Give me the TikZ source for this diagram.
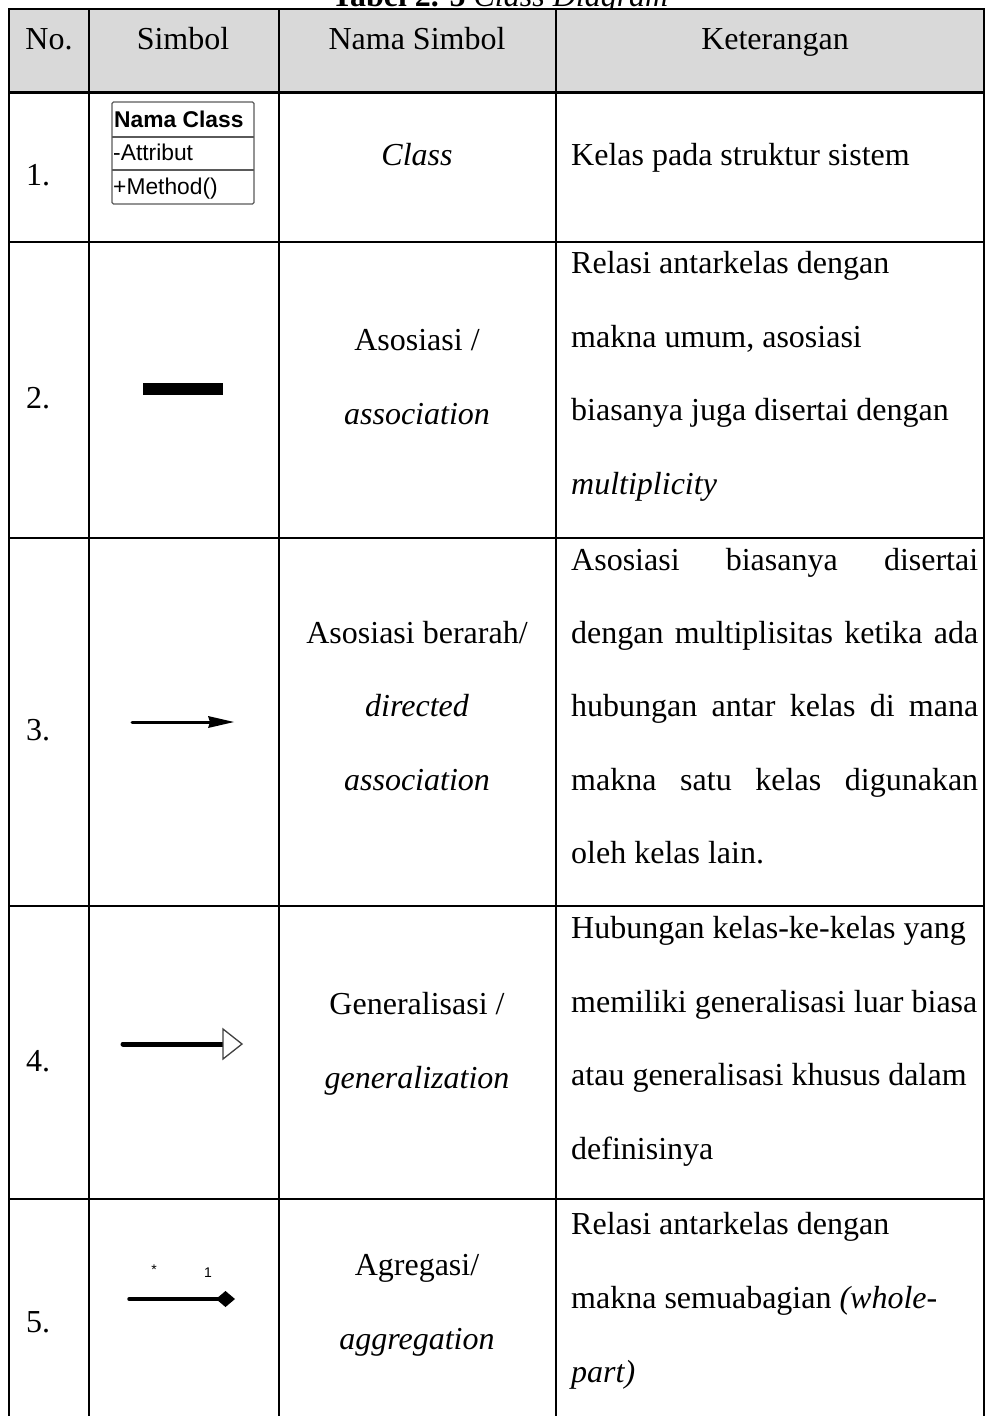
\documentclass[tikz,border=0pt]{standalone}
\usepackage{fontspec}
\setmainfont{Liberation Serif}
\newfontfamily\umlfont{Liberation Sans}
\usetikzlibrary{arrows.meta}
\definecolor{headgray}{HTML}{D9D9D9}
\definecolor{boxgray}{HTML}{5A5A5A}
\begin{document}
\begin{tikzpicture}[x=1pt,y=-1pt,
  rule/.style={line width=1.6pt, black},
  thickrule/.style={line width=3pt, black},
  txt/.style={inner sep=0pt, anchor=base west, font=\fontsize{32}{38}\selectfont},
  ctxt/.style={inner sep=0pt, anchor=base, font=\fontsize{32}{38}\selectfont},
  umltxt/.style={inner sep=0pt, anchor=base west, font=\umlfont\fontsize{22.8}{26}\selectfont},
  multtxt/.style={inner sep=0pt, anchor=center, font=\umlfont\fontsize{14}{16}\selectfont},
  jline/.style={txt}]
\clip (0,0) rectangle (986,1416);

% caption (runs off the top edge)
\node[ctxt] (caption) at (500,6) {\textbf{Tabel 2. 5} \textit{Class Diagram}};

% header band
\fill[headgray] (9,9) rectangle (984,92);

% table rules
\draw[rule] (9,1416) -- (9,9) -- (984,9) -- (984,1416);
\draw[rule] (89,9) -- (89,1416);
\draw[rule] (279,9) -- (279,1416);
\draw[rule] (556,9) -- (556,1416);
\draw[thickrule] (9,92) -- (984,92);
\draw[rule] (9,242) -- (984,242);
\draw[rule] (9,538) -- (984,538);
\draw[rule] (9,906) -- (984,906);
\draw[rule] (9,1199) -- (984,1199);

% header
\node[ctxt] (hno) at (49,49) {No.};
\node[ctxt] (hsym) at (183,49) {Simbol};
\node[ctxt] (hname) at (417,49) {Nama Simbol};
\node[ctxt] (hdesc) at (775,49) {Keterangan};

% row numbers
\node[txt] (n1) at (26,185) {1.};
\node[txt] (n2) at (26,408) {2.};
\node[txt] (n3) at (26,740) {3.};
\node[txt] (n4) at (26,1071) {4.};
\node[txt] (n5) at (26,1332) {5.};

% row 1: class box
\draw[boxgray, line width=1.3pt, rounded corners=1.5pt, fill=white] (112,102) rectangle (254,204);
\draw[boxgray, line width=1.3pt] (112,137) -- (254,137);
\draw[boxgray, line width=1.3pt] (112,170) -- (254,170);
\node[umltxt] (clsname) at (114,127) {\bfseries Nama Class};
\node[umltxt] (clsattr) at (113,160) {-Attribut};
\node[umltxt] (clsop) at (113,194) {+Method()};
\node[ctxt] (nm1) at (417,165) {\itshape Class};
\node[txt] (d1) at (571,165) {Kelas pada struktur sistem};

% row 2: association
\coordinate (a2s) at (143,389);
\coordinate (a2e) at (223,389);
\draw[line width=12pt] (a2s) -- (a2e);
\node[ctxt] (nm2a) at (417,350) {Asosiasi /};
\node[ctxt] (nm2b) at (417,424) {\itshape association};
\node[txt] (d2a) at (571,273) {Relasi antarkelas dengan};
\node[txt] (d2b) at (571,347) {makna umum, asosiasi};
\node[txt] (d2c) at (571,420) {biasanya juga disertai dengan};
\node[txt] (d2d) at (571,494) {\itshape multiplicity};

% row 3: directed association
\coordinate (a3s) at (132,722);
\coordinate (a3e) at (212,722);
\draw[line width=3pt, line cap=round] (a3s) -- (a3e);
\fill (208,716) -- (234,722) -- (208,728) -- (210,722) -- cycle;
\node[ctxt] (nm3a) at (417,643) {Asosiasi berarah/};
\node[ctxt] (nm3b) at (417,716) {\itshape directed};
\node[ctxt] (nm3c) at (417,790) {\itshape association};
\node[jline] (d3a) at (571,570) {\makebox[407pt][s]{Asosiasi biasanya disertai}};
\node[jline] (d3b) at (571,643) {\makebox[407pt][s]{dengan multiplisitas ketika ada}};
\node[jline] (d3c) at (571,716) {\makebox[407pt][s]{hubungan antar kelas di mana}};
\node[jline] (d3d) at (571,790) {\makebox[407pt][s]{makna satu kelas digunakan}};
\node[txt] (d3e) at (571,863) {oleh kelas lain.};

% row 4: generalization
\coordinate (a4s) at (123,1044);
\coordinate (a4e) at (224,1044);
\draw[line width=5pt, line cap=round] (a4s) -- (a4e);
\draw[black!75, line width=1.3pt, fill=white, line join=miter]
  (223,1029) -- (242,1044) -- (223,1059) -- cycle;
\node[ctxt] (nm4a) at (417,1014) {Generalisasi /};
\node[ctxt] (nm4b) at (417,1088) {\itshape generalization};
\node[txt] (d4a) at (571,938) {Hubungan kelas-ke-kelas yang};
\node[txt] (d4b) at (571,1012) {memiliki generalisasi luar biasa};
\node[txt] (d4c) at (571,1085) {atau generalisasi khusus dalam};
\node[txt] (d4d) at (571,1159) {definisinya};

% row 5: aggregation
\coordinate (a5s) at (129,1299);
\coordinate (a5e) at (218,1299);
\draw[line width=3.5pt, line cap=round] (a5s) -- (a5e);
\fill (216,1299) -- (225.5,1291) -- (235,1299) -- (225.5,1307) -- cycle;
\node[multtxt] (m5a) at (154,1270) {*};
\node[multtxt] (m5b) at (208,1273) {1};
\node[ctxt] (nm5a) at (417,1275) {Agregasi/};
\node[ctxt] (nm5b) at (417,1349) {\itshape aggregation};
\node[txt] (d5a) at (571,1234) {Relasi antarkelas dengan};
\node[txt] (d5b) at (571,1308) {makna semuabagian \textit{(whole-}};
\node[txt] (d5c) at (571,1382) {\itshape part)};
\end{tikzpicture}
\end{document}
